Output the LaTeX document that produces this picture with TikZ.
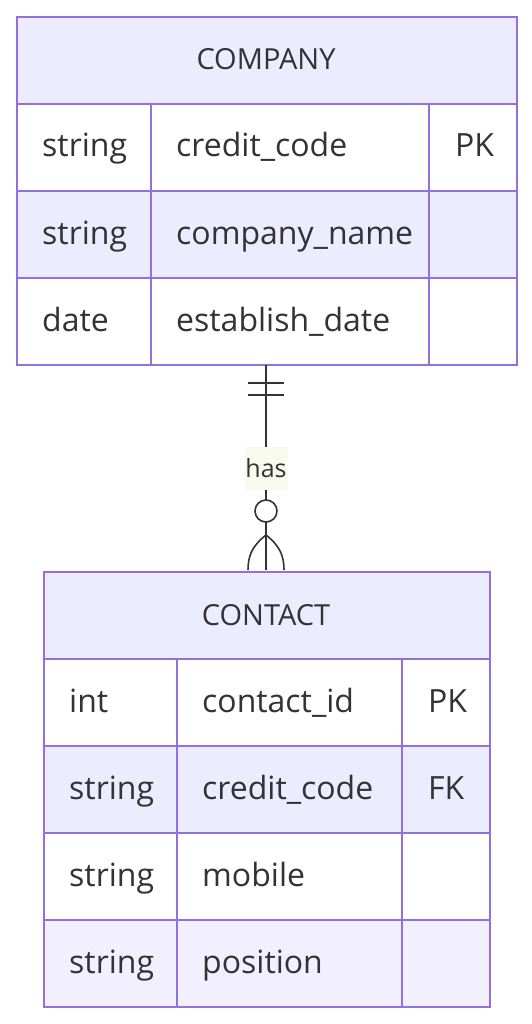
\documentclass[tikz,border=0pt]{standalone}
\usepackage{fontspec}
\setmainfont{Open Sans}
\definecolor{bordc}{HTML}{9370DB}
\definecolor{hdrc}{HTML}{ECECFF}
\definecolor{evenc}{HTML}{ECECFF}
\definecolor{lastc}{HTML}{F2F0FF}
\definecolor{txtc}{HTML}{333333}
\definecolor{lblc}{HTML}{F7FAED}
\begin{document}
\begin{tikzpicture}[x=1pt,y=-1pt,
  cell/.style={draw=bordc,line width=2.2pt,anchor=north west,inner sep=0pt,minimum height=87pt},
  txt/.style={anchor=base west,inner sep=0pt,text=txtc,font=\fontsize{32}{37}\selectfont},
  hdr/.style={anchor=base,inner sep=0pt,text=txtc,font=\fontsize{29}{34}\selectfont},
  rel/.style={draw=txtc,line width=1.6pt}]
\useasboundingbox (0,0) rectangle (532,1024);
% ---- COMPANY ----
\node[cell,fill=hdrc,minimum width=500pt] (comphdr) at (16,16) {};
\node[hdr] (comptitle) at (266,70) {COMPANY};
% row 1
\node[cell,fill=white,minimum width=134pt] (c1a) at (16,103) {};
\node[cell,fill=white,minimum width=278pt] (c1b) at (150,103) {};
\node[cell,fill=white,minimum width=88pt] (c1c) at (428,103) {};
% row 2
\node[cell,fill=evenc,minimum width=134pt] (c2a) at (16,190) {};
\node[cell,fill=evenc,minimum width=278pt] (c2b) at (150,190) {};
\node[cell,fill=evenc,minimum width=88pt] (c2c) at (428,190) {};
% row 3
\node[cell,fill=white,minimum width=134pt] (c3a) at (16,277) {};
\node[cell,fill=white,minimum width=278pt] (c3b) at (150,277) {};
\node[cell,fill=white,minimum width=88pt] (c3c) at (428,277) {};
\node[draw=bordc,line width=2.2pt,anchor=north west,inner sep=0pt,minimum width=500pt,minimum height=348pt] (company) at (16,16) {};
\node[txt] (t1a) at (42,157) {string};
\node[txt] (t1b) at (176,157) {credit\_code};
\node[txt] (t1c) at (455,157) {PK};
\node[txt] (t2a) at (42,244) {string};
\node[txt] (t2b) at (176,244) {company\_name};
\node[txt] (t3a) at (42,331) {date};
\node[txt] (t3b) at (176,331) {establish\_date};
% ---- CONTACT ----
\node[cell,fill=hdrc,minimum width=446pt] (conthdr) at (43,571) {};
\node[hdr] (conttitle) at (266,625) {CONTACT};
\node[cell,fill=white,minimum width=133pt] (d1a) at (43,658) {};
\node[cell,fill=white,minimum width=225pt] (d1b) at (176,658) {};
\node[cell,fill=white,minimum width=88pt] (d1c) at (401,658) {};
\node[cell,fill=evenc,minimum width=133pt] (d2a) at (43,745) {};
\node[cell,fill=evenc,minimum width=225pt] (d2b) at (176,745) {};
\node[cell,fill=evenc,minimum width=88pt] (d2c) at (401,745) {};
\node[cell,fill=white,minimum width=133pt] (d3a) at (43,832) {};
\node[cell,fill=white,minimum width=225pt] (d3b) at (176,832) {};
\node[cell,fill=white,minimum width=88pt] (d3c) at (401,832) {};
\node[cell,fill=lastc,minimum width=133pt] (d4a) at (43,919) {};
\node[cell,fill=lastc,minimum width=225pt] (d4b) at (176,919) {};
\node[cell,fill=lastc,minimum width=88pt] (d4c) at (401,919) {};
\node[draw=bordc,line width=2.2pt,anchor=north west,inner sep=0pt,minimum width=446pt,minimum height=435pt] (contact) at (43,571) {};
\node[txt] (s1a) at (69,712) {int};
\node[txt] (s1b) at (202,712) {contact\_id};
\node[txt] (s1c) at (428,712) {PK};
\node[txt] (s2a) at (69,799) {string};
\node[txt] (s2b) at (202,799) {credit\_code};
\node[txt] (s2c) at (428,799) {FK};
\node[txt] (s3a) at (69,886) {string};
\node[txt] (s3b) at (202,886) {mobile};
\node[txt] (s4a) at (69,973) {string};
\node[txt] (s4b) at (202,973) {position};
% ---- relationship ----
\coordinate (top) at (266,365);
\coordinate (bot) at (266,570);
\coordinate (footapex) at (266,535);
\draw[rel] (top) -- (bot);
\draw[rel] (248,383) -- (284,383);
\draw[rel] (248,395) -- (284,395);
\node[fill=lblc,inner sep=0pt,minimum width=43pt,minimum height=43pt] (lbl) at (266,468) {};
\node[hdr,font=\fontsize{25}{29}\selectfont] (has) at (266,477) {has};
\draw[rel,fill=white] (266,511) circle[radius=11];
\draw[rel] (footapex) .. controls (252,546) and (248,556) .. (248,570);
\draw[rel] (footapex) .. controls (280,546) and (284,556) .. (284,570);
\end{tikzpicture}
\end{document}
